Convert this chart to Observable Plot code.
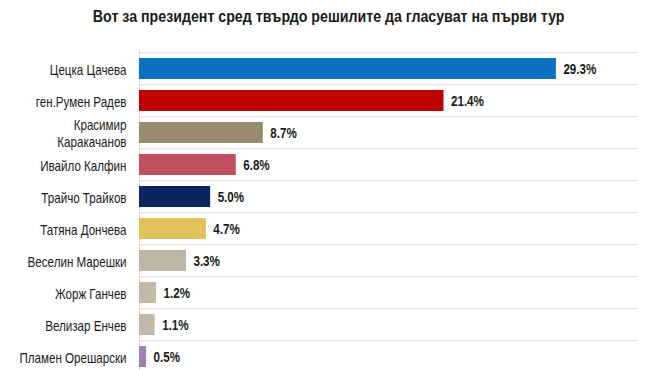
<!DOCTYPE html>
<html>
<head>
<meta charset="utf-8">
<script src="https://cdn.jsdelivr.net/npm/d3@7"></script>
<script src="https://cdn.jsdelivr.net/npm/@observablehq/plot@0.6"></script>
<style>
  html, body { margin: 0; padding: 0; background: #fff; overflow: hidden; }
  #title { height: 40px; line-height: 34px; text-align: center; font-family: "Liberation Sans", Arial, sans-serif; font-weight: bold; font-size: 17px; color: #1a1a1a; transform: scaleX(0.835); transform-origin: 322px 50%; white-space: nowrap; }
</style>
</head>
<body>
<div id="title">Вот за президент сред твърдо решилите да гласуват на първи тур</div>
<div id="chart"></div>
<script>
const names = ["Цецка Цачева", "ген.Румен Радев", "Красимир\nКаракачанов", "Ивайло Калфин", "Трайчо Трайков", "Татяна Дончева", "Веселин Марешки", "Жорж Ганчев", "Велизар Енчев", "Пламен Орешарски"];
const values = [29.3, 21.4, 8.7, 6.8, 5.0, 4.7, 3.3, 1.2, 1.1, 0.5];
const colors = ["#0A70C0", "#C00000", "#978B70", "#C0505F", "#0B2560", "#E3C15A", "#BEB5A5", "#C2B9A8", "#C2B9A8", "#9E80B4"];

const data = names.map((n, i) => ({name: n, value: values[i], color: colors[i]}));

const chart = Plot.plot({
  width: 660,
  height: 335,
  marginTop: 10,
  marginBottom: 0,
  marginLeft: 139,
  marginRight: 23,
  style: {fontFamily: "'Liberation Sans', Arial, sans-serif", fontSize: "14px", color: "#1a1a1a"},
  x: {domain: [0, 35], axis: null},
  y: {domain: names, paddingInner: 0.33, paddingOuter: 0.165, axis: null},
  marks: [
    Plot.ruleY(names, {y: d => d, x1: 0, x2: 35, dy: -16.25, stroke: "#d9d9d9", strokeWidth: 1}),
    Plot.ruleX([0], {stroke: "#d9d9d9"}),
    Plot.barX(data, {y: "name", x: "value", fill: "color"}),
    Plot.text(data, {y: "name", x: "value", text: d => d.value.toFixed(1) + "%", textAnchor: "start", dx: 7, fontWeight: "bold", fontSize: 14.5, fill: "#1a1a1a"}),
    Plot.text(data, {y: "name", x: 0, text: "name", textAnchor: "end", dx: -13, fontSize: 14.5, fill: "#1a1a1a", lineHeight: 1.2})
  ]
});
// condense text horizontally to match the narrow typeface of the reference
chart.querySelectorAll('g[aria-label="text"] text').forEach(t => {
  const tr = t.getAttribute("transform") || "";
  t.setAttribute("transform", tr + " scale(0.8,1)");
});
document.getElementById("chart").appendChild(chart);
</script>
</body>
</html>
